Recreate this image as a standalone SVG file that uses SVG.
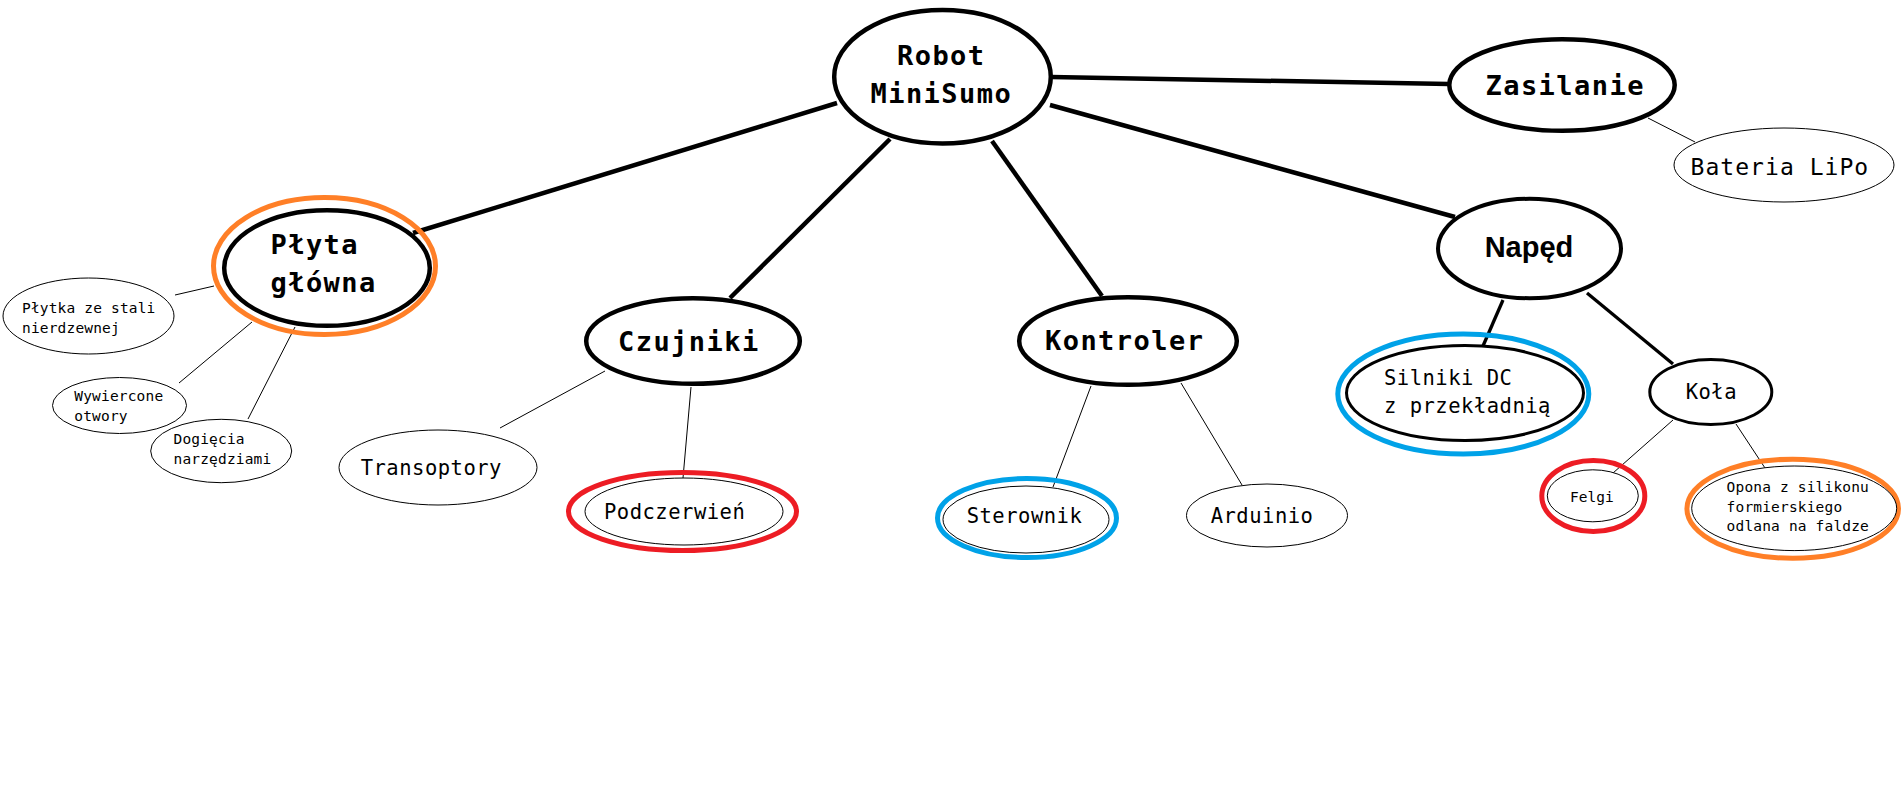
<svg xmlns="http://www.w3.org/2000/svg" width="1901" height="788" viewBox="0 0 1901 788">
<style>
.bg{fill:#fff}
.n{fill:#fff;stroke:#000;stroke-width:4.5}
.m{fill:#fff;stroke:#000;stroke-width:3}
.t{fill:#fff;stroke:#000;stroke-width:1}
.ro{fill:none;stroke:#FF7F27;stroke-width:5}
.rr{fill:none;stroke:#ED1C24;stroke-width:5}
.rb{fill:none;stroke:#00A2E8;stroke-width:5}
.c1{stroke:#000;stroke-width:4.5;fill:none}
.c2{stroke:#000;stroke-width:3.3;fill:none}
.c3{stroke:#000;stroke-width:1;fill:none}
text{font-family:"DejaVu Sans Mono","Liberation Mono",monospace;fill:#000}
.big{font-size:27px;font-weight:bold;letter-spacing:1.45px}
.med{font-size:20.5px;letter-spacing:0.5px}
.bat{font-size:23px;letter-spacing:1.05px}
.sm{font-size:14.5px;letter-spacing:0.17px}
.np{font-family:"Liberation Sans","Open Sans",sans-serif;font-size:29px;font-weight:bold}
</style>
<rect class="bg" x="0" y="0" width="1901" height="788"/>
<g id="connectors">
<line class="c1" x1="837" y1="103" x2="413" y2="233"/>
<line class="c1" x1="890" y1="139" x2="730" y2="298"/>
<line class="c1" x1="992" y1="141" x2="1102" y2="296"/>
<line class="c1" x1="1051" y1="77" x2="1449" y2="84"/>
<line class="c1" x1="1050" y1="105" x2="1455" y2="217"/>
<line class="c3" x1="1648" y1="118" x2="1695" y2="142"/>
<line class="c3" x1="175" y1="295" x2="214" y2="286"/>
<line class="c3" x1="179" y1="383" x2="252" y2="322"/>
<line class="c3" x1="248" y1="419" x2="295" y2="327"/>
<line class="c3" x1="500" y1="428" x2="605" y2="371"/>
<line class="c3" x1="691" y1="387" x2="683" y2="478"/>
<line class="c3" x1="1091" y1="386" x2="1053" y2="487"/>
<line class="c3" x1="1181" y1="383" x2="1242" y2="485"/>
<line class="c2" x1="1503" y1="300" x2="1483" y2="346"/>
<line class="c2" x1="1587" y1="293" x2="1673" y2="364"/>
<line class="c3" x1="1673" y1="420" x2="1613" y2="473"/>
<line class="c3" x1="1736" y1="424" x2="1765" y2="468"/>
</g>
<g id="robot">
<ellipse class="n" cx="942.5" cy="76.7" rx="108.3" ry="66.8"/>
<text class="big" x="897" y="65">Robot</text>
<text class="big" x="870.5" y="103">MiniSumo</text>
</g>
<g id="zasilanie">
<ellipse class="n" cx="1562" cy="85" rx="112.7" ry="45.7"/>
<text class="big" x="1485.5" y="95">Zasilanie</text>
</g>
<g id="bateria">
<ellipse class="t" cx="1784" cy="165" rx="110" ry="37"/>
<text class="bat" x="1690.5" y="175">Bateria LiPo</text>
</g>
<g id="plyta">
<ellipse class="ro" cx="324.5" cy="266" rx="111" ry="68.5"/>
<ellipse class="n" cx="327" cy="268" rx="102.8" ry="57.8"/>
<text class="big" x="270.5" y="254">Płyta</text>
<text class="big" x="270.5" y="292">główna</text>
</g>
<g id="plytka">
<ellipse class="t" cx="88.5" cy="316" rx="85.5" ry="38"/>
<text class="sm" x="22" y="313">Płytka ze stali</text>
<text class="sm" x="22" y="333">nierdzewnej</text>
</g>
<g id="wywiercone">
<ellipse class="t" cx="119.5" cy="405.5" rx="67" ry="28"/>
<text class="sm" x="74.3" y="401">Wywiercone</text>
<text class="sm" x="74.3" y="421">otwory</text>
</g>
<g id="dogiecia">
<ellipse class="t" cx="221.2" cy="451" rx="70.5" ry="31.7"/>
<text class="sm" x="173.5" y="444">Dogięcia</text>
<text class="sm" x="173.5" y="463.5">narzędziami</text>
</g>
<g id="czujniki">
<ellipse class="n" cx="693" cy="341" rx="106.8" ry="42.8"/>
<text class="big" x="618" y="350.7">Czujniki</text>
</g>
<g id="transoptory">
<ellipse class="t" cx="438" cy="467.5" rx="99" ry="37.5"/>
<text class="med" x="360.7" y="475">Transoptory</text>
</g>
<g id="podczerwien">
<ellipse class="rr" cx="682.5" cy="511.5" rx="114" ry="39"/>
<ellipse class="t" cx="684" cy="511.5" rx="99" ry="33.5"/>
<text class="med" x="604" y="519">Podczerwień</text>
</g>
<g id="kontroler">
<ellipse class="n" cx="1128" cy="341" rx="108.8" ry="43.8"/>
<text class="big" x="1045" y="350">Kontroler</text>
</g>
<g id="sterownik">
<ellipse class="rb" cx="1027" cy="518" rx="89.5" ry="39.5"/>
<ellipse class="t" cx="1026" cy="519.5" rx="83" ry="33.5"/>
<text class="med" x="966.7" y="523">Sterownik</text>
</g>
<g id="arduinio">
<ellipse class="t" cx="1267" cy="515.5" rx="80.5" ry="31.5"/>
<text class="med" x="1210.7" y="523">Arduinio</text>
</g>
<g id="naped">
<ellipse class="n" style="stroke-width:4" cx="1529.5" cy="248.5" rx="91.5" ry="49.7"/>
<text class="np" x="1529" y="256.7" text-anchor="middle">Napęd</text>
</g>
<g id="silniki">
<ellipse class="rb" cx="1463.3" cy="394" rx="125.5" ry="60"/>
<ellipse class="m" cx="1465" cy="393" rx="118.5" ry="47.5"/>
<text class="med" x="1384" y="385">Silniki DC</text>
<text class="med" x="1384" y="412.7">z przekładnią</text>
</g>
<g id="kola">
<ellipse class="m" cx="1710.8" cy="392" rx="61" ry="32.5"/>
<text class="med" x="1685.7" y="399">Koła</text>
</g>
<g id="felgi">
<ellipse class="rr" cx="1593.3" cy="496" rx="51.5" ry="35.5"/>
<ellipse class="t" cx="1592.8" cy="495.8" rx="45.5" ry="26"/>
<text class="sm" style="letter-spacing:0" x="1570" y="501.7">Felgi</text>
</g>
<g id="opona">
<ellipse class="ro" cx="1792.7" cy="508.7" rx="105.8" ry="49.5"/>
<ellipse class="t" cx="1794.2" cy="508.3" rx="102.5" ry="42.3"/>
<text class="sm" x="1726.6" y="491.7">Opona z silikonu</text>
<text class="sm" x="1726.6" y="511.7">formierskiego</text>
<text class="sm" x="1726.6" y="531">odlana na faldze</text>
</g>
</svg>
